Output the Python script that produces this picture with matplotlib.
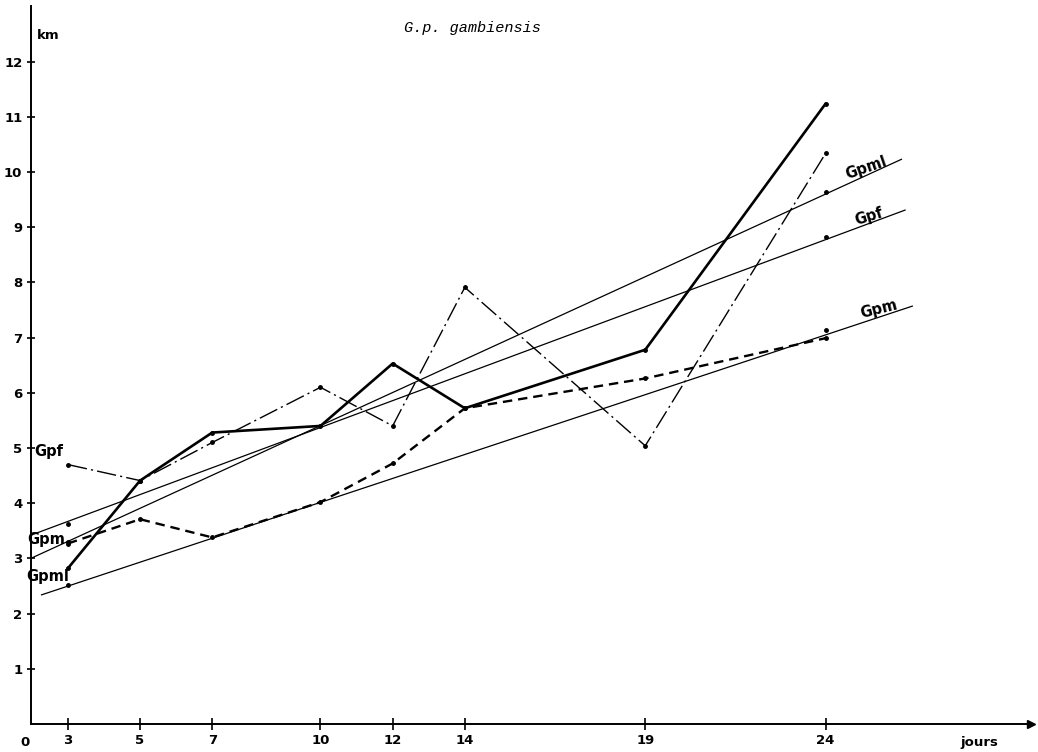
import matplotlib
matplotlib.use("Agg")
import matplotlib.pyplot as plt

# ── data (km vs jours) ──
days = [3, 5, 7, 10, 12, 14, 19, 24]
gpml = [2.82, 4.41, 5.28, 5.40, 6.53, 5.72, 6.78, 11.24]   # bold solid
gpf = [4.70, 4.41, 5.10, 6.10, 5.40, 7.91, 5.04, 10.34]    # dash-dot
gpm = [3.27, 3.71, 3.38, 4.02, 4.72, 5.72, 6.26, 6.99]     # bold dashed

# regression lines (start / end as drawn) and their marked points
reg_gpml_x = [1.97, 26.1]
reg_gpml_y = [3.00, 10.23]
reg_gpf_x = [1.97, 26.2]
reg_gpf_y = [3.42, 9.31]
reg_gpm_x = [2.27, 26.4]
reg_gpm_y = [2.34, 7.57]
reg_dot_days = [3, 24]
reg_gpml_dots = [3.29, 9.64]
reg_gpf_dots = [3.62, 8.82]
reg_gpm_dots = [2.52, 7.13]

y_ticks = [1, 2, 3, 4, 5, 6, 7, 8, 9, 10, 11, 12]

BOLD = ['Liberation Sans Narrow', 'DejaVu Sans']

fig = plt.figure(figsize=(10.38, 7.52), dpi=100)
ax = fig.add_axes([0.0296, 0.0372, 0.9640, 0.9543])
ax.set_xlim(1.97, 29.7)
ax.set_ylim(0, 13)

# data series
ax.plot(days, gpml, color='black', lw=1.9, marker='o', ms=2.5, solid_capstyle='round')
ax.plot(days, gpf, color='black', lw=1.0, marker='o', ms=2.5, dashes=(14, 3, 1.5, 3))
ax.plot(days, gpm, color='black', lw=1.7, marker='o', ms=2.5, dashes=(4, 2.5))

# regression lines
for rx, ry, dots in [(reg_gpml_x, reg_gpml_y, reg_gpml_dots),
                     (reg_gpf_x, reg_gpf_y, reg_gpf_dots),
                     (reg_gpm_x, reg_gpm_y, reg_gpm_dots)]:
    ax.plot(rx, ry, color='black', lw=0.9)
    ax.plot(reg_dot_days, dots, 'o', color='black', ms=2.5)

# series labels
lab = dict(fontfamily=BOLD, fontweight='bold', fontsize=10.5, ha='center', va='center')
ax.text(25.12, 10.07, 'Gpml', rotation=19, **lab)
ax.text(25.20, 9.19, 'Gpf', rotation=17, **lab)
ax.text(25.46, 7.51, 'Gpm', rotation=14, **lab)
ax.text(2.46, 4.93, 'Gpf', **lab)
ax.text(2.39, 3.35, 'Gpm', **lab)
ax.text(2.45, 2.68, 'Gpml', **lab)

# axes: only left / bottom with arrows
for s in ['top', 'right']:
    ax.spines[s].set_visible(False)
for s in ['left', 'bottom']:
    ax.spines[s].set_linewidth(1.4)
ax.plot(1, 0, '>k', ms=6, transform=ax.get_yaxis_transform(), clip_on=False)
ax.plot(0, 1, '^k', ms=6, transform=ax.get_xaxis_transform(), clip_on=False)

ax.set_xticks(days)
ax.set_xticklabels([str(d) for d in days])
ax.set_yticks(y_ticks)
ax.set_yticklabels([str(v) for v in y_ticks])
ax.tick_params(axis='x', direction='inout', length=8, width=1.2, pad=3)
ax.tick_params(axis='y', direction='inout', length=6, width=1.2, pad=3)
for t in ax.get_xticklabels() + ax.get_yticklabels():
    t.set_fontfamily(BOLD)
    t.set_fontweight('bold')
    t.set_fontsize(9.5)

ax.text(1.80, -0.026, '0', transform=ax.get_xaxis_transform(), fontfamily=BOLD,
        fontweight='bold', fontsize=9.5, ha='center', va='center')
ax.text(28.25, -0.026, 'jours', transform=ax.get_xaxis_transform(), fontfamily=BOLD,
        fontweight='bold', fontsize=9.5, ha='center', va='center')
ax.text(2.13, 12.48, 'km', fontfamily=BOLD, fontweight='bold', fontsize=9.5,
        ha='left', va='center')

fig.text(0.4547, 0.9628, 'G.p. gambiensis', fontfamily=['Liberation Mono', 'DejaVu Sans Mono'],
         style='italic', fontsize=11, ha='center', va='center')

fig.savefig('out.png', dpi=100)
